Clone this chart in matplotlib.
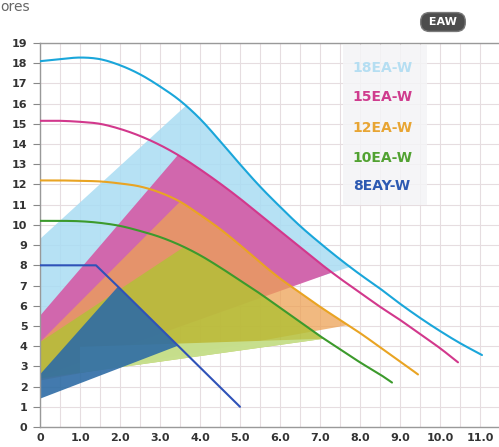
import numpy as np
import matplotlib
matplotlib.use("Agg")
import matplotlib.pyplot as plt
from matplotlib.patches import Polygon, Rectangle

# --- pump curves (flow m3/h -> head m) ---
x18 = [0, 0.5, 1.0, 1.5, 2.0, 2.5, 3.0, 3.5, 4.0, 4.5, 5.0, 5.5, 6.0, 6.5, 7.0,
       7.5, 8.0, 8.5, 9.0, 9.5, 10.0, 10.5, 11.05]
h18 = [18.1, 18.2, 18.28, 18.2, 17.9, 17.45, 16.85, 16.15, 15.25, 14.15, 13.0,
       11.9, 10.9, 9.95, 9.1, 8.3, 7.55, 6.85, 6.1, 5.4, 4.75, 4.15, 3.56]

x15 = [0, 0.5, 1.0, 1.5, 2.0, 2.5, 3.0, 3.5, 4.0, 4.5, 5.0, 5.5, 6.0, 6.5, 7.0,
       7.5, 8.0, 8.5, 9.0, 9.5, 10.0, 10.45]
h15 = [15.15, 15.15, 15.1, 15.0, 14.75, 14.4, 13.95, 13.4, 12.75, 12.05, 11.3,
       10.5, 9.7, 8.9, 8.1, 7.35, 6.65, 5.95, 5.3, 4.6, 3.9, 3.2]

x12 = [0, 0.5, 1.0, 1.5, 2.0, 2.5, 3.0, 3.5, 4.0, 4.5, 5.0, 5.5, 6.0, 6.5, 7.0,
       7.5, 8.0, 8.5, 9.0, 9.45]
h12 = [12.2, 12.2, 12.18, 12.15, 12.05, 11.9, 11.6, 11.15, 10.5, 9.8, 9.0, 8.15,
       7.35, 6.65, 5.95, 5.3, 4.65, 3.95, 3.25, 2.6]

x10 = [0, 0.5, 1.0, 1.5, 2.0, 2.5, 3.0, 3.5, 4.0, 4.5, 5.0, 5.5, 6.0, 6.5, 7.0,
       7.5, 8.0, 8.5, 8.8]
h10 = [10.2, 10.2, 10.18, 10.1, 9.95, 9.7, 9.4, 9.0, 8.5, 7.9, 7.25, 6.6, 5.9,
       5.2, 4.5, 3.85, 3.2, 2.6, 2.2]

x8 = [0, 0.5, 1.0, 1.4, 2.0, 3.0, 4.0, 5.0]
h8 = [8.0, 8.0, 8.0, 8.0, 6.85, 4.9, 2.95, 1.0]

names = ["18EA-W", "15EA-W", "12EA-W", "10EA-W", "8EAY-W"]
line_colors = ["#1aa6da", "#d2388c", "#e9a423", "#3c9a2c", "#2f52b8"]
label_colors = ["#b5def2", "#cf3c8e", "#e8a533", "#52a232", "#2d5ab2"]

# working-range bands: head at x=0 for upper/lower edge, x where edges meet curve
band_hi0 = [9.3, 5.5, 4.2, 4.2, 2.6]
band_xhi = [3.65, 3.45, 3.5, 3.6, 1.95]
band_xlo = [7.75, 7.3, 7.7, 7.1, 3.45]
band_lo0 = [3.0, 2.5, 2.3, 2.4, 1.4]
band_colors = ["#a9dcf3", "#d55aa6", "#eda255", "#b4bf38", "#2e6ca5"]
band_alpha = [0.85, 0.9, 0.75, 0.85, 0.9]

curves = [(x18, h18), (x15, h15), (x12, h12), (x10, h10), (x8, h8)]


def smooth(xs, ys, n=12):
    # Catmull-Rom through the read points, only for drawing
    p = np.column_stack([xs, ys]).astype(float)
    p = np.vstack([p[0], p, p[-1]])
    out = []
    t = np.linspace(0, 1, n, endpoint=False)[:, None]
    for k in range(1, len(p) - 2):
        p0, p1, p2, p3 = p[k - 1], p[k], p[k + 1], p[k + 2]
        seg = 0.5 * ((2 * p1) + (-p0 + p2) * t + (2 * p0 - 5 * p1 + 4 * p2 - p3) * t ** 2
                     + (-p0 + 3 * p1 - 3 * p2 + p3) * t ** 3)
        out.append(seg)
    out.append(p[-2][None, :])
    out = np.vstack(out)
    return out[:, 0], out[:, 1]


fig = plt.figure(figsize=(4.99, 4.47), dpi=100)
ax = fig.add_axes([40 / 499, 20 / 447, 459 / 499, 384 / 447])
ax.set_xlim(0, 11.475)
ax.set_ylim(0, 19)

smoothed = []
for xs, hs in curves:
    # keep the flat start of 8EAY-W as a sharp knee
    if len(xs) < 10:
        smoothed.append((np.array(xs, float), np.array(hs, float)))
    else:
        smoothed.append(smooth(xs, hs))

for i, (xs, hs) in enumerate(smoothed):
    yhi = np.interp(band_xhi[i], xs, hs)
    ylo = np.interp(band_xlo[i], xs, hs)
    mask = (xs > band_xhi[i]) & (xs < band_xlo[i])
    pts = [(0, band_lo0[i]), (0, band_hi0[i]), (band_xhi[i], yhi)]
    pts += list(zip(xs[mask], hs[mask]))
    pts += [(band_xlo[i], ylo)]
    ax.add_patch(Polygon(pts, closed=True, facecolor=band_colors[i],
                         alpha=band_alpha[i], edgecolor="none", zorder=2 + i * 0.1))
    if i == 3:
        # lighter lower strip of the 10EA-W band
        strip_top0 = 3.9
        xx = np.array([1.0, band_xlo[i]])
        low = band_lo0[i] + (ylo - band_lo0[i]) * xx / band_xlo[i]
        top = strip_top0 + (ylo - strip_top0) * xx / band_xlo[i]
        sp = [(xx[0], low[0]), (xx[1], low[1]), (xx[0], top[0])]
        ax.add_patch(Polygon(sp, closed=True, facecolor="#c8e294", alpha=0.9,
                             edgecolor="none", zorder=2.35))

for i, (xs, hs) in enumerate(smoothed):
    ax.plot(xs, hs, color=line_colors[i], lw=1.5, zorder=4, solid_capstyle="round")

# grid
ax.set_xticks(np.arange(0, 12, 1.0))
ax.set_xticklabels(["0"] + [f"{v:.1f}" for v in np.arange(1, 12, 1.0)])
ax.set_xticks(np.arange(0.5, 11.5, 1.0), minor=True)
ax.set_yticks(range(0, 20))
ax.grid(True, which="both", color="#e6dde0", lw=0.8, zorder=0)
ax.set_axisbelow(True)
ax.tick_params(axis="x", which="both", length=0, pad=4, labelsize=8,
               labelcolor="#333333")
ax.tick_params(axis="y", length=5, width=0.8, color="#888888", pad=4,
               labelsize=8, labelcolor="#333333")
for lab in ax.get_xticklabels() + ax.get_yticklabels():
    lab.set_fontweight("bold")

for side in ["top", "right"]:
    ax.spines[side].set_visible(False)
for side in ["left", "bottom"]:
    ax.spines[side].set_color("#999999")
    ax.spines[side].set_linewidth(1.0)
ax.axhline(19, color="#999999", lw=1.0, zorder=1, clip_on=False)

# legend block
ax.add_patch(Rectangle((7.57, 11.0), 2.1, 7.9, facecolor="#f4f4f6",
                       edgecolor="none", alpha=0.85, zorder=1))
leg_y = [17.77, 16.34, 14.8, 13.3, 11.9]
for i, name in enumerate(names):
    ax.text(8.55, leg_y[i], name, color=label_colors[i], fontsize=10,
            fontweight="bold", ha="center", va="center", zorder=5)

fig.text(0.0, 0.999, "ores", fontsize=10, color="#666666", va="top", ha="left")
fig.text(443 / 499, 1 - 22 / 447, " EAW ", fontsize=8, fontweight="bold",
         color="white", ha="center", va="center",
         bbox=dict(boxstyle="round,pad=0.4,rounding_size=0.8",
                   facecolor="#4d4d4d", edgecolor="#7a7a7a"))

fig.savefig("out.png", dpi=100)
